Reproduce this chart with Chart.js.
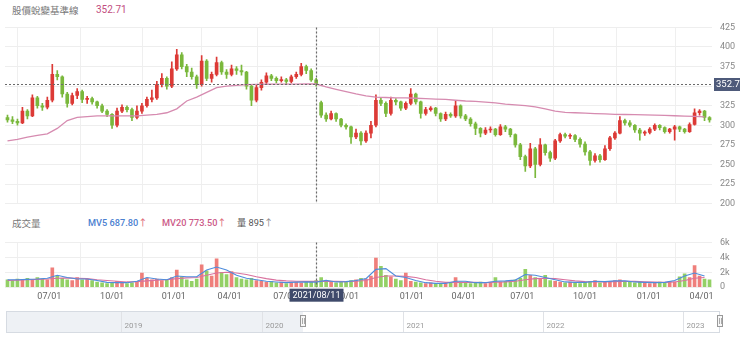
<!DOCTYPE html>
<html>
<head>
<meta charset="utf-8">
<script src="https://cdn.jsdelivr.net/npm/chart.js@4.4.0/dist/chart.umd.min.js"></script>
<style>
  html, body { margin: 0; padding: 0; background: #fff; }
  body { width: 740px; height: 343px; position: relative; overflow: hidden;
         font-family: Roboto, "Noto Sans CJK TC", sans-serif; }
  .lbl { position: absolute; white-space: nowrap; line-height: 13px; }
  canvas { position: absolute; left: 0; }
</style>
</head>
<body>
<span class="lbl" style="left:12px;top:4px;font-size:9.5px;color:#777;">股價蛻變基準線</span>
<span class="lbl" id="baseVal" style="left:96px;top:3px;font-size:10px;color:#c24d80;"></span>

<span class="lbl" style="left:12px;top:217px;font-size:9.5px;color:#777;">成交量</span>
<span class="lbl" id="mv5Val" style="left:88px;top:216px;font-size:9.2px;color:#4a80d0;font-weight:500;"></span>
<span class="lbl" id="mv20Val" style="left:162px;top:216px;font-size:9.2px;color:#cc5a88;font-weight:500;"></span>
<span class="lbl" id="volVal" style="left:237px;top:216px;font-size:9.2px;color:#555;"></span>

<canvas id="priceChart" width="740" height="203" style="top:14px"></canvas>
<canvas id="volChart" width="740" height="79" style="top:229px"></canvas>
<canvas id="navChart" width="740" height="32" style="top:306px"></canvas>

<script>
// ---- data: one candle per 5 trading days, x = trading-day index ----
const candleStep = 5;

const openPx = [
  310,307,305,303,318,312,335,325,323,332,
  365,362,340,328,338,343,333,334,330,325,
  318,314,300,318,323,320,310,318,325,333,
  335,352,360,350,372,390,375,368,362,352,
  382,360,365,380,368,365,372,370,368,350,
  332,348,355,363,360,357,358,356,362,365,
  375,370,358,329,313,308,315,308,300,298,
  285,290,280,290,300,332,328,315,332,330,
  322,328,340,330,315,320,322,315,308,314,
  312,325,312,308,302,296,290,294,295,288,
  298,295,288,275,260,248,270,250,275,265,
  258,280,288,286,287,282,276,266,255,261,
  256,270,284,290,306,303,300,294,290,291,
  295,300,297,292,295,298,295,292,301,316,
  318,310];

const highPx = [
  313,311,308,323,320,339,337,328,336,378,
  370,363,342,341,347,345,337,336,331,327,
  320,315,322,326,325,322,325,328,336,345,
  356,366,362,381,397,393,378,373,364,389,
  384,368,387,382,371,377,375,377,369,352,
  352,358,367,365,362,362,360,364,368,379,
  377,372,360,331,316,318,316,309,302,299,
  295,292,293,305,339,335,330,336,334,331,
  330,347,341,331,323,324,323,316,317,316,
  331,326,314,310,304,297,297,298,296,301,
  300,296,289,277,262,277,272,283,276,267,
  282,290,290,289,288,284,279,268,264,263,
  274,286,292,311,308,306,301,296,293,297,
  302,301,298,296,300,299,296,303,321,320,
  319,311];

const lowPx = [
  304,302,300,302,308,311,322,319,321,330,
  358,336,323,326,334,329,328,327,322,316,
  311,296,298,316,317,306,308,315,323,330,
  333,349,346,348,370,372,362,359,347,350,
  357,355,363,365,360,363,365,364,346,325,
  330,345,353,357,354,355,353,354,360,363,
  366,356,350,310,305,307,305,298,295,277,
  283,275,278,284,298,325,311,313,326,319,
  320,326,327,309,313,318,312,305,306,310,
  310,309,306,299,288,285,288,291,286,287,
  292,285,272,256,241,246,233,248,262,254,
  256,278,284,283,279,272,262,249,253,253,
  255,268,282,289,300,298,291,281,287,289,
  293,294,290,290,281,292,290,291,300,313,
  306,304];

const closePx = [
  307,305,303,318,312,335,325,323,332,365,
  362,340,328,338,343,333,334,330,325,318,
  314,300,318,323,320,310,318,325,333,335,
  352,360,350,372,390,375,368,362,352,382,
  360,365,380,368,365,372,370,368,350,332,
  348,355,363,360,357,358,356,362,365,375,
  370,358,353,313,308,315,308,300,298,285,
  290,280,290,300,332,328,315,332,330,322,
  328,340,330,315,320,322,315,308,314,312,
  325,312,308,302,296,290,294,295,288,298,
  295,288,275,260,248,270,250,275,265,258,
  280,288,286,287,282,276,266,255,261,256,
  270,284,290,306,303,300,294,290,291,295,
  300,297,292,295,298,295,292,301,316,318,
  310,307];

// daily volume (lots)
const volume = [
  1000,900,1100,1000,1200,950,1300,1100,1000,2600,
  1500,1200,1000,900,1300,1000,1100,900,700,600,
  500,550,800,600,500,600,700,1900,1200,1000,
  1100,900,1000,1300,2300,1400,1000,800,1100,3000,
  2200,1500,3800,2000,1700,2100,1300,1100,1000,1200,
  900,800,700,800,600,700,500,600,700,600,
  700,650,895,1300,800,700,600,800,700,900,
  1000,1200,1100,1500,3900,2800,1600,1400,1100,900,
  1900,800,700,600,500,600,500,400,500,600,
  1300,700,600,500,600,700,500,600,1300,700,
  800,900,1000,1200,2400,1600,1300,1100,1600,900,
  800,700,600,700,600,500,700,800,900,600,
  700,800,900,1000,800,700,600,700,600,500,
  600,700,600,800,700,1400,1800,1300,2900,1500,
  1100,1000];

// baseline and volume averages, sampled every other candle (every 10 trading days)
const baseline = [
  280,282,285,287,289,296,306,310,311,312,
  312,312,312,312,313,314,316,321,331,336,
  342,348,350,351,352,352.3,352.4,352.5,352.6,352.6,
  352.7,352.71,349,346,343,340,337.5,336,335.5,335,
  335,334.5,334,333.5,333,332,331,330.5,329.5,328.5,
  327,326,325,323.5,321,318,316.5,316,315.5,315,
  314.5,314,313.8,313.5,313.2,313,312.6,312.2,311.8,311.3,
  310.8];

const mv5 = [
  1000,1000,1050,1100,1200,1600,1300,1100,1100,900,
  650,600,600,800,1300,1100,1000,1500,1400,1400,
  2300,2700,2300,1600,1200,1000,800,700,600,680,
  700,687.8,900,700,750,900,1150,2400,2500,1500,
  1300,900,600,500,500,800,800,600,600,800,
  850,950,1700,1600,1300,1000,700,650,650,800,
  750,850,850,700,650,600,650,900,1500,1900,
  1500];

const mv20 = [
  900,950,1000,1050,1100,1200,1250,1200,1150,1000,
  900,800,700,750,850,950,1000,1150,1250,1300,
  1600,1900,2000,1900,1700,1400,1150,950,850,800,
  780,773.5,790,780,760,800,900,1300,1500,1500,
  1450,1300,1000,800,650,650,650,650,620,680,
  720,800,1000,1150,1200,1150,1000,850,750,700,
  720,760,800,780,720,680,650,700,900,1200,
  1300];

// quarter starts (trading-day index) and their labels
const quarterTickDays = [42,105,167,223,279,341,406,458,517,580,644,697];
const quarterTickLabels = ['07/01','10/01','01/01','04/01','07/01','10/01','01/01','04/01','07/01','10/01','01/01','04/01'];
// year starts for the range navigator
const yearTickDays = [-312,-72,167,406,644];
const yearTickLabels = ['2019','2020','2021','2022','2023'];
const volumeTickLabels = ['0','2k','4k','6k'];

// highlighted session
const hoverIndex = 62;
const hoverDate = '2021/08/11';

// ---- helpers ----
const RED = '#dc3a36', GREEN = '#7ab83c';
const VRED = 'rgba(236,104,100,0.85)', VGREEN = 'rgba(128,200,74,0.85)';
const dayOf = i => i * candleStep;
const isUp = i => closePx[i] >= openPx[i];
const X_MIN = -2.5, X_MAX = 707.5;

Chart.defaults.font.family = 'Roboto, "Noto Sans CJK TC", sans-serif';
Chart.defaults.animation = false;

const sampleIdx = hoverIndex / 2;

document.getElementById('baseVal').textContent = baseline[sampleIdx].toFixed(2);
document.getElementById('mv5Val').innerHTML = 'MV5 ' + mv5[sampleIdx].toFixed(2) + '<span style="color:#e0707e">↑</span>';
document.getElementById('mv20Val').innerHTML = 'MV20 ' + mv20[sampleIdx].toFixed(2) + '<span style="color:#e0707e">↑</span>';
document.getElementById('volVal').innerHTML = '量 ' + volume[hoverIndex] + '<span style="color:#888">↑</span>';

function quarterAxis(showLabels) {
  return {
    type: 'linear', min: X_MIN, max: X_MAX, offset: false,
    afterBuildTicks: s => { s.ticks = quarterTickDays.map(v => ({ value: v })); },
    ticks: {
      display: showLabels, autoSkip: false, maxRotation: 0, padding: 4,
      color: '#666', font: { size: 9 },
      callback: (v, i) => quarterTickLabels[i]
    },
    grid: { color: '#efefef', drawTicks: false },
    border: { display: false }
  };
}

const crosshair = {
  id: 'crosshair',
  afterDatasetsDraw(chart, args, opts) {
    const { ctx, chartArea: a, scales: { x, y } } = chart;
    const px = Math.round(x.getPixelForValue(dayOf(hoverIndex))) + 0.5;
    ctx.save();
    ctx.strokeStyle = '#6a6a6a';
    ctx.lineWidth = 1.2;
    ctx.setLineDash([2, 2]);
    ctx.beginPath(); ctx.moveTo(px, a.top); ctx.lineTo(px, a.bottom); ctx.stroke();
    if (opts.value !== undefined) {
      const py = Math.round(y.getPixelForValue(opts.value)) + 0.5;
      ctx.beginPath(); ctx.moveTo(a.left, py); ctx.lineTo(a.right, py); ctx.stroke();
      ctx.setLineDash([]);
      ctx.fillStyle = '#4e5a7a';
      ctx.fillRect(a.right + 2, py - 6.5, 740 - a.right - 2, 13);
      ctx.fillStyle = '#fff';
      ctx.font = '9.5px Roboto, sans-serif';
      ctx.textAlign = 'left'; ctx.textBaseline = 'middle';
      ctx.fillText(opts.value.toFixed(2), a.right + 4, py + 0.5);
    }
    if (opts.date) {
      ctx.setLineDash([]);
      ctx.font = '9px Roboto, sans-serif';
      const w = Math.ceil(ctx.measureText(opts.date).width) + 6, h = 13;
      ctx.fillStyle = '#3f4a6b';
      ctx.fillRect(px - w / 2, a.bottom + 1.5, w, h);
      ctx.fillStyle = '#fff';
      ctx.textAlign = 'center'; ctx.textBaseline = 'middle';
      ctx.fillText(opts.date, px, a.bottom + 8.5);
    }
    ctx.restore();
  }
};

// ---- price pane ----
new Chart(document.getElementById('priceChart'), {
  type: 'bar',
  data: {
    datasets: [
      {
        label: 'wick',
        data: highPx.map((h, i) => ({ x: dayOf(i), y: [lowPx[i], h] })),
        backgroundColor: c => isUp(c.dataIndex) ? RED : GREEN,
        barThickness: 1, grouped: false, order: 2
      },
      {
        label: 'body',
        data: openPx.map((o, i) => ({ x: dayOf(i), y: [o, closePx[i]] })),
        backgroundColor: c => isUp(c.dataIndex) ? RED : GREEN,
        barThickness: 3, minBarLength: 1, grouped: false, order: 1
      },
      {
        type: 'line', label: 'baseline',
        data: baseline.map((v, k) => ({ x: dayOf(k * 2), y: v })),
        borderColor: '#d68bb0', borderWidth: 1.3, pointRadius: 0, tension: 0, order: 0
      }
    ]
  },
  options: {
    responsive: false, devicePixelRatio: 1,
    layout: { padding: { left: 5, right: 0, top: 9.5, bottom: 6 } },
    plugins: { legend: { display: false }, tooltip: { enabled: false },
               crosshair: { value: baseline[sampleIdx] } },
    scales: {
      x: quarterAxis(false),
      y: {
        position: 'right', min: 200, max: 425,
        afterFit: s => { s.width = 28; },
        ticks: { stepSize: 25, padding: 8, color: '#888', font: { size: 9 } },
        grid: { color: '#eeeeee', drawTicks: false },
        border: { display: false }
      }
    }
  },
  plugins: [crosshair]
});

// ---- volume pane ----
new Chart(document.getElementById('volChart'), {
  type: 'bar',
  data: {
    datasets: [
      {
        type: 'line', label: 'MV5',
        data: mv5.map((v, k) => ({ x: dayOf(k * 2), y: v })),
        borderColor: '#4f8ddc', borderWidth: 1.2, pointRadius: 0, order: 0
      },
      {
        type: 'line', label: 'MV20',
        data: mv20.map((v, k) => ({ x: dayOf(k * 2), y: v })),
        borderColor: '#d9719e', borderWidth: 1.2, pointRadius: 0, order: 1
      },
      {
        label: 'volume',
        data: volume.map((v, i) => ({ x: dayOf(i), y: v })),
        backgroundColor: c => isUp(c.dataIndex) ? VRED : VGREEN,
        barThickness: 3, grouped: false, order: 2
      }
    ]
  },
  options: {
    responsive: false, devicePixelRatio: 1,
    layout: { padding: { left: 5, right: 0, top: 8, bottom: 2 } },
    plugins: { legend: { display: false }, tooltip: { enabled: false },
               crosshair: { date: hoverDate } },
    scales: {
      x: quarterAxis(true),
      y: {
        position: 'right', min: 0, max: 6000,
        afterFit: s => { s.width = 28; },
        ticks: { stepSize: 2000, padding: 8, color: '#888', font: { size: 9 },
                 callback: (v, i) => volumeTickLabels[i] },
        grid: { color: '#eeeeee', drawTicks: false },
        border: { display: false }
      }
    }
  },
  plugins: [crosshair]
});

// ---- range navigator ----
// a 22px framed strip; the part before the visible window is shaded,
// year starts get a divider with the year written just right of it
const NAV_MIN = -508;
const NAV_BOX_H = 22;
const navDecor = {
  id: 'navDecor',
  beforeDraw(chart) {
    const { ctx, chartArea: a, scales: { x } } = chart;
    const sel = x.getPixelForValue(X_MIN);
    ctx.save();
    ctx.fillStyle = '#eef1f5';
    ctx.fillRect(a.left, a.top, sel - a.left, NAV_BOX_H);
    ctx.strokeStyle = '#e0e2e6';
    ctx.lineWidth = 1;
    ctx.font = '8px Roboto, sans-serif';
    ctx.textAlign = 'left';
    ctx.textBaseline = 'middle';
    yearTickDays.forEach((v, i) => {
      const px = Math.round(x.getPixelForValue(v)) + 0.5;
      ctx.beginPath(); ctx.moveTo(px, a.top); ctx.lineTo(px, a.top + NAV_BOX_H); ctx.stroke();
      ctx.fillStyle = '#9a9a9a';
      ctx.fillText(yearTickLabels[i], px + 3, a.top + 15);
    });
    ctx.restore();
  },
  afterDraw(chart) {
    const { ctx, chartArea: a, scales: { x } } = chart;
    ctx.save();
    ctx.strokeStyle = '#d6dbe2';
    ctx.lineWidth = 1;
    ctx.strokeRect(a.left + 0.5, a.top + 0.5, a.right - a.left - 1, NAV_BOX_H - 1);
    [X_MIN, X_MAX].forEach(v => {
      const px = Math.round(x.getPixelForValue(v));
      const cy = a.top + NAV_BOX_H / 2 - 1;
      ctx.fillStyle = '#f7f7f7';
      ctx.strokeStyle = '#999';
      ctx.fillRect(px - 3, cy - 6, 6, 12);
      ctx.strokeRect(px - 2.5, cy - 5.5, 5, 11);
      ctx.beginPath();
      ctx.moveTo(px - 0.5, cy - 3); ctx.lineTo(px - 0.5, cy + 3);
      ctx.moveTo(px + 1.5, cy - 3); ctx.lineTo(px + 1.5, cy + 3);
      ctx.strokeStyle = '#aaa';
      ctx.stroke();
    });
    ctx.restore();
  }
};

new Chart(document.getElementById('navChart'), {
  type: 'line',
  data: { datasets: [] },
  options: {
    responsive: false, devicePixelRatio: 1,
    layout: { padding: { left: 6, right: 20, top: 5, bottom: 5 } },
    plugins: { legend: { display: false }, tooltip: { enabled: false } },
    scales: {
      x: {
        type: 'linear', min: NAV_MIN, max: X_MAX,
        ticks: { display: false },
        grid: { display: false },
        border: { display: false }
      },
      y: { display: false, min: 0, max: 1 }
    }
  },
  plugins: [navDecor]
});
</script>
</body>
</html>
